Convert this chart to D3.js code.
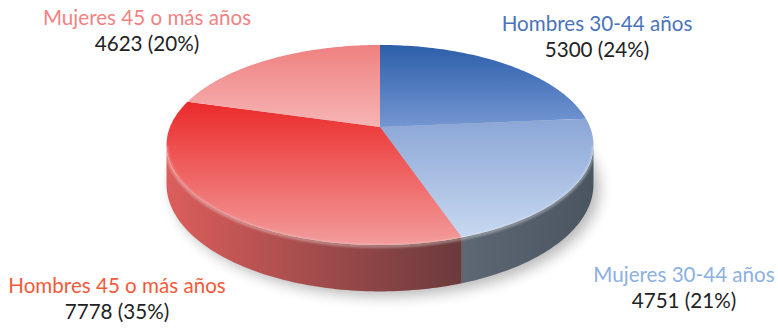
<!DOCTYPE html>
<html>
<head>
<meta charset="utf-8">
<script src="https://cdn.jsdelivr.net/npm/d3@7"></script>
<style>
  body { margin: 0; background: #fff; }
  text { font-family: Lato, "Open Sans", sans-serif; }
</style>
</head>
<body>
<div id="chart"></div>
<script>
// Data
const categories = ["Hombres 30-44 años", "Mujeres 30-44 años", "Hombres 45 o más años", "Mujeres 45 o más años"];
const values = [5300, 4751, 7778, 4623];
const percentLabels = ["24%", "21%", "35%", "20%"];

// Colours per slice
const labelColors = ["#4a74b8", "#8cb0e2", "#f25a3a", "#f28282"];
const topColors = [["#2c5ea9", "#7597d3"], ["#8aa6d6", "#c8d8f0"], ["#eb2a2a", "#f39c9c"], ["#ef8080", "#f7b5b5"]];
const sideColors = [["#3a5a90", "#2a4470"], ["#5e6874", "#4a5561"], ["#dc5e5c", "#6a3a3c"], ["#d88080", "#b06060"]];

const config = {
  width: 778, height: 328,
  cx: 380, cy: 127,    // apex of the slices
  rx: 210, ry: 96.8,   // radii of the top disk
  persp: 0.18,         // perspective factor
  depth: 38,           // thickness of the pie
  fontSize: 20.6,
  labels: [
    { x: 597, y: 31 },
    { x: 684, y: 282 },
    { x: 117, y: 293 },
    { x: 147, y: 25 }
  ],
  lineGap: 26
};

const svg = d3.select("#chart").append("svg")
  .attr("width", config.width)
  .attr("height", config.height);

const defs = svg.append("defs");

const pie = d3.pie().sort(null).value(d => d);
const arcs = pie(values);

// project an angle (clockwise from 12 o'clock) on the tilted disk
function proj(a, drop = 0) {
  const X = Math.sin(a), Z = Math.cos(a);
  const s = 1 / (1 + config.persp * Z);
  return [config.cx + config.rx * X * s, config.cy - config.ry * Z * s + drop * s];
}

function sampleArc(a0, a1, drop) {
  const n = Math.max(2, Math.ceil(Math.abs(a1 - a0) / 0.02));
  return d3.range(n + 1).map(i => proj(a0 + (a1 - a0) * i / n, drop));
}

// visible part of the side wall (where projected x is extremal)
const visStart = Math.acos(-config.persp);
const visEnd = 2 * Math.PI - visStart;

// gradients
arcs.forEach((d, i) => {
  const gt = defs.append("linearGradient").attr("id", "top" + i)
    .attr("x1", 0).attr("y1", 0).attr("x2", 0).attr("y2", 1);
  gt.append("stop").attr("offset", 0).attr("stop-color", topColors[i][0]);
  gt.append("stop").attr("offset", 1).attr("stop-color", topColors[i][1]);

  const gs = defs.append("linearGradient").attr("id", "side" + i)
    .attr("x1", 0).attr("y1", 0).attr("x2", 1).attr("y2", 0);
  gs.append("stop").attr("offset", 0).attr("stop-color", sideColors[i][0]);
  gs.append("stop").attr("offset", 1).attr("stop-color", sideColors[i][1]);
});

const blur = defs.append("filter").attr("id", "shadowBlur")
  .attr("x", "-20%").attr("y", "-40%").attr("width", "140%").attr("height", "180%");
blur.append("feGaussianBlur").attr("stdDeviation", 7);

const soft = defs.append("filter").attr("id", "soft");
soft.append("feGaussianBlur").attr("stdDeviation", 1.2);

const line = d3.line();

// shadow under the pie
const shadowPts = sampleArc(0, 2 * Math.PI, config.depth + 4).map(p => [p[0] + 6, p[1]]);
svg.append("path")
  .attr("d", line(shadowPts) + "Z")
  .attr("fill", "#000")
  .attr("opacity", 0.28)
  .attr("filter", "url(#shadowBlur)");

// side walls
const sides = svg.append("g");
arcs.forEach((d, i) => {
  const a0 = Math.max(d.startAngle, visStart);
  const a1 = Math.min(d.endAngle, visEnd);
  if (a1 <= a0) return;
  const topPts = sampleArc(a0, a1, 0);
  const botPts = sampleArc(a1, a0, config.depth);
  sides.append("path")
    .attr("d", line(topPts.concat(botPts)) + "Z")
    .attr("fill", `url(#side${i})`);
});

// top faces
const tops = svg.append("g");
arcs.forEach((d, i) => {
  const pts = [[config.cx, config.cy]].concat(sampleArc(d.startAngle, d.endAngle, 0));
  tops.append("path")
    .attr("d", line(pts) + "Z")
    .attr("fill", `url(#top${i})`);
});

// bevel highlight on the front rim
svg.append("path")
  .attr("d", line(sampleArc(visStart, visEnd, 1)))
  .attr("fill", "none")
  .attr("stroke", "#fff")
  .attr("stroke-opacity", 0.35)
  .attr("stroke-width", 3)
  .attr("filter", "url(#soft)");

// labels
const labels = svg.append("g");
arcs.forEach((d, i) => {
  const pos = config.labels[i];
  labels.append("text")
    .attr("x", pos.x).attr("y", pos.y)
    .attr("text-anchor", "middle")
    .attr("font-size", config.fontSize)
    .attr("fill", labelColors[i])
    .text(categories[i]);
  labels.append("text")
    .attr("x", pos.x).attr("y", pos.y + config.lineGap)
    .attr("text-anchor", "middle")
    .attr("font-size", config.fontSize)
    .attr("fill", "#222")
    .text(`${d.data} (${percentLabels[i]})`);
});
</script>
</body>
</html>
